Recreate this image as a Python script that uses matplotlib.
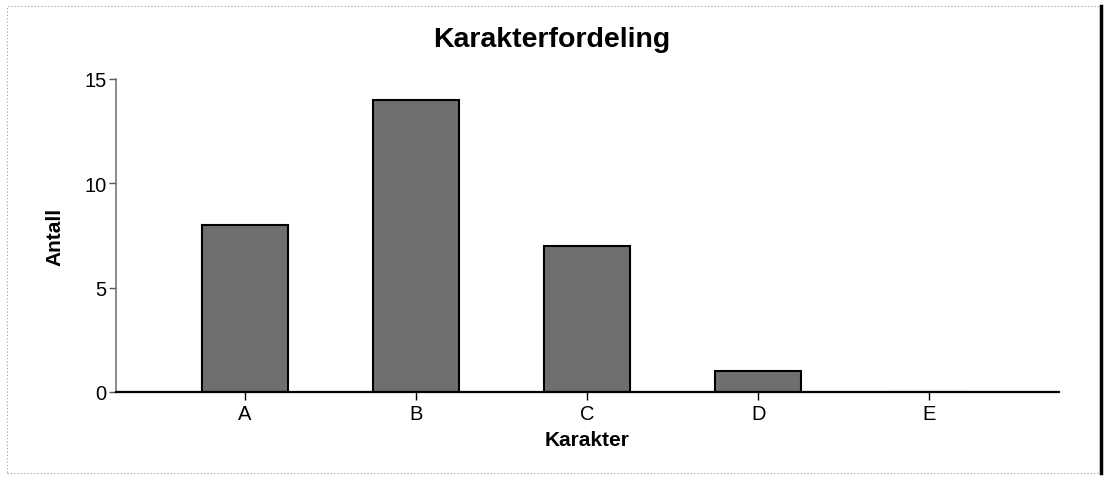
import matplotlib.pyplot as plt
from matplotlib.patches import Rectangle

# Data
grades = ["A", "B", "C", "D", "E"]
counts = [8, 14, 7, 1, 0]
y_ticks = [0, 5, 10, 15]

plt.rcParams["font.family"] = ["Liberation Sans", "DejaVu Sans"]

fig = plt.figure(figsize=(11.09, 4.81), dpi=100)
ax = fig.add_axes([0.1046, 0.183, 0.8504, 0.6507])

positions = range(len(grades))
ax.bar(positions, counts, width=0.5, color="#6f6f6f", edgecolor="black",
       linewidth=1.5, zorder=2)

ax.set_xlim(-0.755, 4.76)
ax.set_ylim(0, 15)
ax.set_xticks(list(positions))
ax.set_xticklabels(grades, fontsize=14.5)
ax.set_yticks(y_ticks)
ax.tick_params(axis="y", labelsize=14.5, length=5, color="#555555", width=1, pad=2)
ax.tick_params(axis="x", length=6, color="black", width=1, pad=3)

for side in ["top", "right"]:
    ax.spines[side].set_visible(False)
ax.spines["left"].set_color("#777777")
ax.spines["left"].set_linewidth(1.2)
ax.spines["bottom"].set_color("black")
ax.spines["bottom"].set_linewidth(1.6)
ax.spines["bottom"].set_zorder(3)

ax.set_xlabel("Karakter", fontsize=15, fontweight="bold", labelpad=5)
ax.set_ylabel("Antall", fontsize=15, fontweight="bold", labelpad=14)
fig.text(0.4977, 0.917, "Karakterfordeling", ha="center", va="center",
         fontsize=20.5, fontweight="bold")

# scanned page frame
fig.patches.append(Rectangle((0.006, 0.015), 0.987, 0.97, transform=fig.transFigure,
                             fill=False, edgecolor="#999999", linewidth=0.8,
                             linestyle=(0, (1, 2))))
fig.lines.append(plt.Line2D([0.993, 0.993], [0.015, 0.985], transform=fig.transFigure,
                            color="black", linewidth=2.5))

fig.savefig("out.png", dpi=100)
